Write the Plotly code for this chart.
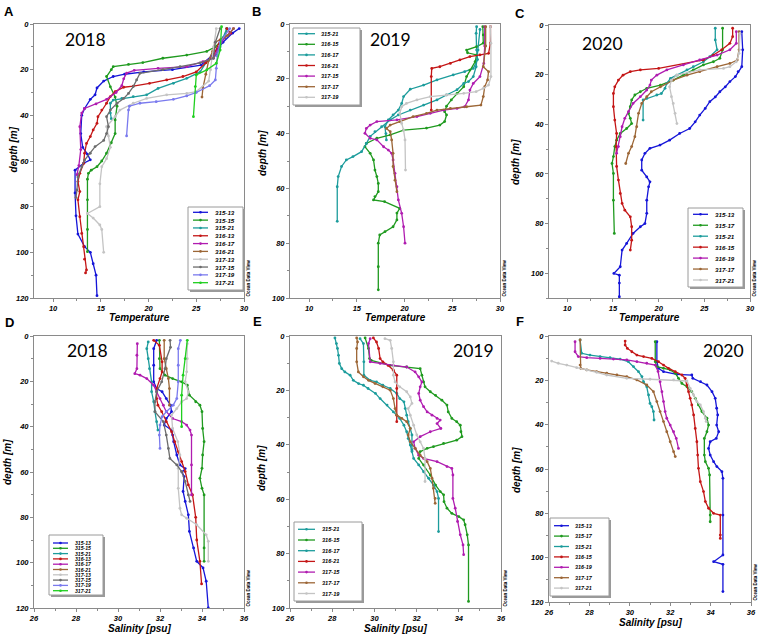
import plotly.graph_objects as go

W, H = 759, 636

# station colours (ODV style)
colors = {
    "315-13": "#1515d8", "315-15": "#1f9a1f", "315-17": "#1f9a1f", "315-21": "#1c9c9c",
    "316-13": "#c41616", "316-15": "#c41616", "316-17": "#b01cb0", "316-19": "#b01cb0",
    "316-21": "#9c6636", "317-13": "#c4c4c4", "317-15": "#6c6c6c", "317-17": "#9c6636",
    "317-19": "#7a7aee", "317-21": "#1fcf1f",
}
colors_2019 = dict(colors)
colors_2019.update({"316-15": "#1f9a1f", "316-17": "#1c9c9c", "316-21": "#c41616",
                    "317-15": "#b01cb0", "317-19": "#c4c4c4"})
colors_2020 = dict(colors)
colors_2020.update({"316-15": "#c41616", "317-21": "#c4c4c4"})

# (depth [m], temperature)
temp_2018 = {
    "315-13": [(2, 29.5), (4, 28.8), (8, 27.8), (14, 26.6), (18, 25.5), (20, 22.5), (21, 19.5), (22, 17.5),
               (23, 16.3), (25, 15.3), (28, 14.6), (31, 14.4), (33, 13.9), (37, 13.3), (40, 13.0), (48, 12.9),
               (54, 13.1), (57, 13.6), (59.5, 13.9), (61, 13.2), (64, 12.3), (74, 12.3), (84, 12.4), (92, 12.6),
               (97.5, 13.3), (100, 13.9), (105, 14.2), (110, 14.5), (119, 14.6)],
    "315-15": [(2, 28.2), (6, 28.0), (10, 27.0), (12, 26.1), (13.6, 24.0), (15, 21.5), (16.9, 19.4), (17.7, 17.9),
               (18.7, 16.3), (20, 16.1), (23, 15.6), (27.5, 16.0), (32, 16.5), (36, 16.7), (42, 16.5), (48, 16.5),
               (52, 16.1), (56.6, 15.6), (60, 15.1), (62.5, 14.6), (64, 14.0), (65.4, 13.7), (68, 13.6),
               (77, 13.6), (90, 13.6), (99.7, 13.6)],
    "315-21": [(2, 28.2), (6, 27.8), (10, 27.5), (13.6, 27.1), (17, 26.0), (21, 25.4), (23.8, 24.0), (26, 22.6),
               (28.2, 21.0), (31, 19.8), (31.8, 18.4), (32.6, 17.2), (33.3, 16.3), (34.7, 16.0), (39, 16.0),
               (41.5, 16.1)],
    "316-13": [(2, 28.2), (4, 28.6), (7, 27.5), (14, 26.8), (17, 26.0), (21, 25.0), (23, 23.6), (24.5, 21.9),
               (26, 20.1), (27.2, 18.4), (27.7, 17.4), (29.6, 16.5), (31.8, 16.0), (34.7, 15.6), (37.7, 15.1),
               (40.6, 14.7), (43.5, 14.6), (46.4, 14.2), (49.3, 13.9), (52.3, 13.5), (56.6, 13.3), (61, 13.2),
               (65.4, 12.8), (69, 12.6), (73.4, 12.8), (77, 12.6), (84.4, 12.8), (91.7, 13.0), (97.5, 13.2),
               (103, 13.3), (107.7, 13.5), (109, 13.4)],
    "316-17": [(2, 28.9), (4, 28.5), (8, 27.6), (15, 26.8), (16.5, 25.7), (18.7, 24.0), (19.4, 21.0),
               (20.3, 18.5), (21.5, 17.7), (24, 17.4), (27, 17.2), (30, 16.6), (33, 15.6), (35, 14.5), (37, 13.3),
               (39, 13.0), (45, 12.8), (55, 12.9), (62, 12.7), (66, 12.5)],
    "316-21": [(2, 28.9), (5, 28.3), (8, 27.0), (12, 26.7), (16, 26.3), (22, 26.0), (28, 25.7), (32, 25.6)],
    "317-13": [(2, 27.1), (10, 26.8), (20, 26.5), (25, 26.3), (29.6, 25.0), (30.4, 24.0), (31, 21.9),
               (32.6, 19.8), (34.7, 18.4), (37.7, 17.0), (40.5, 16.5), (45, 15.6), (49, 15.8), (54, 16.0),
               (59, 15.6), (62.5, 15.1), (70, 14.9), (80, 14.9), (83, 13.6), (85, 14.2), (88, 14.9), (90, 15.1),
               (100, 15.3)],
    "317-15": [(2, 27.5), (8, 27.0), (15, 26.8), (17, 25.4), (18.7, 23.3), (20, 21.5), (21.6, 19.1), (24.5, 18.75),
               (27.4, 18.4), (30.4, 17.9), (32.6, 17.4), (34.7, 16.7), (37.7, 16.0), (40.6, 15.6), (45, 15.8),
               (48, 15.6), (51, 15.3), (53.7, 14.4), (56.6, 13.9), (59.6, 13.3), (62.5, 13.0), (67, 12.6),
               (72.7, 12.5), (76, 12.4)],
    "317-19": [(2, 28.5), (8, 27.5), (14, 27.2), (19.4, 27.1), (24.5, 27.0), (27, 26.4), (30, 25.0), (31.5, 24.0),
               (33, 22.6), (34, 20.8), (34.7, 19.1), (36, 18.0), (37.7, 17.9), (49, 17.7)],
    "317-21": [(1.2, 27.65), (11.4, 27.5), (17.2, 27.1), (20.1, 26.1), (22.3, 25.0), (27.4, 24.9), (40.6, 24.7)],
}

temp_2019 = {
    "315-21": [(1, 27.55), (3.4, 27.5), (9.5, 27.55), (13, 27.65), (16.2, 27.2), (17.4, 26.3), (18.6, 25.1),
               (20.4, 23.4), (22.3, 22.0), (23.8, 20.6), (26.5, 19.9), (29, 19.7), (31.4, 19.35), (33.2, 18.8),
               (35, 18.3), (37.5, 17.95), (40, 18.05), (42.3, 18.1)],
    "316-15": [(1, 28.2), (4, 28.25), (7, 28.25), (8.3, 27.55), (9.5, 26.5), (10.5, 26.6), (11.3, 27.55),
               (13.7, 27.4), (16.8, 26.85), (19.2, 26.5), (22.9, 26.2), (25.3, 25.5), (27.7, 24.9), (30, 24.4),
               (32, 24.2), (33.2, 24.4), (35.6, 24.2), (36.9, 23.7), (38, 22.3), (38.7, 19.9), (40.5, 18.5),
               (41.7, 17.1), (43.6, 16.0), (44.8, 15.85), (47.2, 16.4), (49.6, 16.75), (53.3, 16.9), (55.7, 17.1),
               (58.2, 17.25), (61.2, 17.25), (63, 16.9), (64.2, 16.75), (64.8, 17.9), (67.3, 19.5), (69, 19.2),
               (71.5, 19.2), (74, 18.8), (75.8, 17.95), (77, 17.4), (80, 17.25), (88.6, 17.25), (97, 17.25)],
    "316-17": [(2, 27.9), (9.5, 27.7), (15.6, 27.5), (19.2, 27.2), (21, 26.7), (21.7, 26.2), (24, 25.5),
               (25.9, 24.4), (27.7, 23.4), (29.6, 22.0), (31.4, 20.6), (33.2, 19.35), (35, 18.5), (37.5, 17.6),
               (39.3, 16.9), (41, 16.4), (43.6, 16.0), (46.6, 15.5), (48.4, 14.6), (49.6, 13.9), (52, 13.4),
               (55.7, 13.05), (59.4, 12.95), (72, 12.95)],
    "316-21": [(1, 29.0), (7, 29.0), (10.7, 28.8), (11.3, 27.9), (11.9, 26.85), (13.1, 25.8), (14.4, 24.8),
               (15.6, 23.7), (16.2, 22.85), (19.2, 22.8), (31.4, 22.8)],
    "317-15": [(1, 28.4), (8, 28.4), (14.4, 28.3), (19.2, 27.9), (21.7, 27.2), (24.1, 26.85), (27.7, 26.7),
               (30.2, 26.3), (30.8, 25.5), (31.4, 24.1), (32.6, 22.7), (33.8, 21.3), (35, 19.2), (35.6, 17.1),
               (36.9, 16.4), (38.1, 16.0), (39.9, 15.85), (41.7, 16.4), (42.3, 17.1), (44.8, 17.8), (46, 18.3),
               (47.2, 18.65), (49.6, 18.8), (54.5, 19.0), (59.4, 19.2), (64.2, 19.35), (69.1, 19.7), (74, 19.9),
               (80, 20.05)],
    "317-17": [(1, 28.5), (8, 28.5), (15.6, 28.25), (17.4, 28.8), (20.4, 28.7), (22.9, 28.4), (26.5, 28.25),
               (29.6, 28.0), (30.2, 26.5), (30.8, 24.8), (31.4, 23.4), (32.6, 22.3), (33.8, 20.9), (35.6, 19.5),
               (36.9, 18.5), (38.1, 18.1), (39.3, 18.5), (42.3, 18.65), (47.2, 18.8), (52, 18.8), (57, 19.0),
               (61.2, 19.2)],
    "317-19": [(1, 29.0), (7, 29.05), (19.2, 29.05), (22.3, 28.8), (23.5, 28.25), (24.7, 27.5), (25.3, 26.2),
               (25.9, 24.4), (26.5, 22.7), (27.7, 21.3), (29, 20.2), (30.2, 19.7), (32.6, 19.5), (36.3, 19.7),
               (38.7, 19.9), (42.3, 20.05), (53.3, 20.1)],
}

temp_2020 = {
    "315-13": [(2.7, 29.1), (10, 29.2), (16.8, 29.1), (18.8, 28.7), (20.8, 28.4), (22.8, 27.8), (24.9, 27.3),
               (26.9, 26.7), (29, 26.2), (30.9, 25.6), (33.6, 25.1), (36.3, 24.5), (39, 24.0), (41.7, 23.4),
               (43.7, 22.3), (46.4, 21.2), (48.4, 20.15), (49.7, 19.05), (51.7, 18.5), (54.4, 18.15),
               (58.5, 18.15), (61.2, 18.7), (63.2, 19.05), (65.2, 18.9), (70.6, 18.7), (75.9, 18.7), (80, 18.5),
               (81.3, 18.0), (84, 17.2), (88, 16.5), (90.7, 16.0), (97.4, 15.8), (100.1, 15.1), (100.8, 15.7),
               (104, 15.7), (109.5, 15.7)],
    "315-17": [(1.3, 27.0), (10, 27.0), (13.4, 26.7), (14.8, 26.0), (16.1, 24.9), (18.1, 23.8), (20.2, 22.7),
               (22.2, 21.6), (24.2, 20.2), (25.5, 18.7), (26.9, 18.0), (28.2, 17.4), (30.2, 17.05), (32.9, 16.9),
               (35.6, 16.7), (37.6, 16.9), (39.7, 17.05), (41.7, 16.5), (43.7, 15.8), (46.4, 15.4), (49, 15.2),
               (53, 15.05), (55.8, 14.9), (59.8, 15.05), (70.6, 15.05), (84, 15.15)],
    "315-21": [(1.3, 26.2), (6, 26.2), (10, 26.4), (12.8, 25.6), (14.8, 24.9), (16.8, 23.8), (18.1, 23.1),
               (20.2, 22.0), (21.5, 21.3), (23.5, 20.9), (25.5, 20.7), (27.6, 20.3), (28.2, 19.8), (29.6, 18.7),
               (30.2, 18.3), (38.3, 18.3)],
    "316-15": [(1.3, 28.1), (4.7, 28.1), (7.4, 27.8), (10, 26.9), (12.1, 26.0), (14.1, 24.9), (17.5, 20.0),
               (18.1, 18.0), (18.8, 16.9), (20.2, 16.1), (22.2, 15.6), (24.9, 15.2), (27.6, 15.05), (32.9, 15.05),
               (38.3, 15.2), (43.7, 15.4), (49, 15.35), (57, 15.4), (62.5, 15.6), (67.9, 15.8), (71.9, 16.0),
               (74.6, 16.3), (77.3, 16.9), (81.3, 17.05), (86.7, 17.05), (90.7, 16.9)],
    "316-19": [(2.7, 28.5), (7.4, 28.5), (10, 27.8), (12.1, 26.4), (14.1, 24.5), (16.1, 22.7), (18.1, 20.9),
               (20.2, 19.8), (22.2, 19.2), (24.2, 19.05), (26.2, 18.7), (28.9, 18.0), (31.6, 17.2), (34.9, 16.7),
               (37.6, 16.3), (41, 16.0), (45, 15.8), (49, 15.6), (51.7, 15.4)],
    "317-17": [(2.7, 28.8), (10, 28.8), (14.1, 28.6), (15.5, 27.8), (16.8, 26.4), (18.8, 24.5), (20.2, 23.1),
               (22.2, 21.6), (24.9, 20.2), (26.9, 19.2), (28.9, 18.7), (31.6, 18.15), (35.6, 17.8), (41, 17.6),
               (45, 17.4), (49, 17.05), (51.7, 16.7), (55.8, 16.4)],
    "317-21": [(3.4, 28.9), (11.4, 28.8), (14.8, 28.5), (16.8, 27.8), (17.5, 27.1), (18.1, 24.5), (20.2, 22.0),
               (22.2, 21.4), (24.9, 21.2), (28.9, 21.4), (31.6, 21.6), (35.6, 21.8), (39.7, 22.0)],
}

# (depth [m], salinity [psu])
sal_2018 = {
    "315-13": [(1.9, 31.84), (5.6, 31.7), (12.9, 31.7), (20.2, 31.7), (23.2, 31.84), (24.6, 32.1), (27.6, 32.3),
               (30.5, 32.5), (33.4, 32.55), (36.4, 32.3), (39.3, 32.2), (41.5, 32.55), (43.7, 32.6), (46.6, 32.65),
               (52.5, 32.8), (56.9, 32.95), (58.5, 33.2), (60, 33.05), (62, 33.15), (68.6, 33.1), (73, 33.2),
               (78.9, 33.35), (86.2, 33.4), (93.5, 33.6), (99.4, 33.75), (102.3, 34.05), (108.2, 34.2),
               (120, 34.3)],
    "315-15": [(1.9, 31.97), (10, 31.97), (14.4, 32.0), (17.3, 32.24), (18.8, 32.6), (20.2, 33.03), (21.7, 33.3),
               (26.1, 33.4), (29, 33.7), (30.5, 33.9), (33.4, 34.0), (40.8, 34.03), (46.6, 34.1), (52.5, 34.03),
               (58.4, 34.0), (62.8, 33.9), (67.2, 34.0), (70.1, 34.1), (93.5, 34.1), (99.4, 34.1)],
    "315-21": [(2.6, 31.44), (5.6, 31.37), (10, 31.44), (14.4, 31.5), (20.2, 31.6), (24.6, 31.6), (29, 31.7),
               (33.4, 31.76), (37.8, 31.84), (41.5, 31.9)],
    "316-13": [(1.9, 31.7), (4.1, 31.97), (11.4, 32.1), (15.8, 32.1), (18.8, 32.0), (23.2, 31.84), (27.6, 31.84),
               (30.5, 31.9), (33.4, 32.08), (37.8, 32.3), (42.2, 32.55), (46.6, 32.7), (51, 32.87), (55.4, 33.03),
               (59.8, 33.2), (65.7, 33.35), (70.1, 33.55), (80, 33.7), (90, 33.75), (99.4, 33.9), (109.4, 33.98)],
    "316-17": [(3.4, 30.92), (8.5, 30.9), (14.4, 30.9), (16.6, 30.8), (17.3, 31.05), (18.8, 31.37), (21.7, 31.7),
               (24.6, 31.84), (27.6, 32.0), (30.5, 32.16), (33.4, 32.3), (36.4, 32.6), (37.8, 33.03),
               (39.3, 33.27), (41.5, 33.43), (43.7, 33.5), (56.9, 33.5), (70.1, 33.5)],
    "316-21": [(1.9, 32.2), (10, 32.2), (14.4, 32.3), (18.8, 32.4), (23.2, 32.45), (30.5, 32.45)],
    "317-13": [(3.4, 33.3), (10, 33.3), (15.8, 33.27), (20.2, 33.2), (24.6, 33.35), (27.6, 33.27), (29, 33.03),
               (32, 32.8), (34.9, 32.55), (40.8, 32.6), (46.6, 32.85), (52.5, 32.95), (58.4, 32.87), (67.2, 32.87),
               (76, 32.95), (78.9, 33.03), (80.4, 33.27), (83.3, 33.75), (87.7, 34.2), (90.6, 34.3), (99.4, 34.3)],
    "317-15": [(1.9, 32.48), (5, 32.5), (10, 32.3), (14.4, 32.24), (20.2, 32.08), (24.6, 31.84), (29, 31.76),
               (33.4, 31.76), (37.8, 32.16), (43.7, 32.3), (49.6, 32.4), (54, 32.47), (56.9, 32.8), (59.8, 33.03),
               (64.2, 33.2), (70.1, 33.35), (73, 33.43)],
    "317-19": [(1.9, 32.97), (5.6, 32.87), (12.9, 32.87), (20.2, 32.87), (27.6, 32.8), (30.5, 32.63), (33.4, 32.3),
               (35.6, 32.1), (39.3, 32.0), (43.7, 31.97), (49.6, 32.0)],
    "317-21": [(1.9, 33.3), (10, 33.2), (17.3, 33.1), (26.1, 33.03), (40, 33.03)],
}

sal_2019 = {
    "315-21": [(1, 29.32), (2.8, 29.48), (9.5, 29.5), (14.4, 29.5), (16.3, 29.8), (16.9, 30.1), (18.1, 30.4),
               (19.3, 30.75), (21.1, 31.06), (23, 31.2), (24.2, 31.4), (26.7, 31.46), (29.1, 31.53), (31.5, 31.6),
               (34, 31.7), (36.4, 31.78), (40.1, 31.78), (41.9, 31.78)],
    "316-15": [(0.7, 29.56), (4.6, 29.72), (8.3, 29.77), (9, 29.85), (10.8, 30.75), (11.4, 31.53), (12, 32.17),
               (14.4, 32.25), (16.9, 32.33), (18.7, 32.4), (20.5, 32.65), (21.8, 32.9), (23.6, 33.2), (25.4, 33.44),
               (27.9, 33.5), (30.3, 33.67), (31.5, 33.9), (32.8, 34.07), (35.2, 34.1), (37, 34.15), (38.3, 33.9),
               (39.5, 33.28), (40.7, 32.8), (41.3, 32.5), (42.5, 32.17), (45, 32.1), (47.4, 32.33), (51.1, 32.65),
               (54.8, 32.9), (57.2, 33.12), (58.4, 33.28), (60.9, 33.3), (63.3, 33.44), (65.2, 33.67), (66.4, 34.0),
               (67.6, 34.23), (69.4, 34.3), (73.1, 34.4), (76.8, 34.46), (97.6, 34.46)],
    "316-17": [(0.7, 28.13), (2.8, 28.2), (4.6, 28.25), (7.1, 28.3), (10.1, 28.34), (12, 28.45), (13.2, 28.6),
               (14.4, 28.85), (16.3, 29.0), (17.5, 29.25), (18.1, 29.48), (19.3, 29.7), (21.1, 30.05), (23, 30.27),
               (25.4, 30.6), (27.9, 30.9), (30.3, 31.2), (32.8, 31.4), (35.2, 31.53), (37.7, 31.6), (40.1, 31.7),
               (42.5, 31.78), (45, 31.86), (47.4, 32.1), (49.9, 32.33), (52.3, 32.57), (54.8, 32.8), (57.2, 32.97),
               (59.7, 33.04), (71.9, 33.04)],
    "316-21": [(0.7, 29.95), (2.2, 30.1), (4.6, 30.2), (8.3, 30.27), (9.5, 30.4), (10.8, 30.65), (12.6, 30.9),
               (14.4, 31.06), (19.3, 31.06), (29.1, 31.06), (31.5, 31.06)],
    "317-15": [(1, 29.8), (2.8, 29.72), (9.5, 29.8), (10.1, 30.27), (10.8, 30.9), (11.4, 31.53), (13.2, 31.93),
               (15, 32.1), (16.9, 32.25), (18.7, 32.17), (21.1, 32.1), (23.6, 32.17), (26, 32.33), (27.9, 32.5),
               (29.1, 32.73), (30.3, 32.97), (30.9, 33.12), (32.2, 32.97), (34, 33.15), (35.2, 32.65), (37, 32.17),
               (38.9, 31.86), (41.3, 31.93), (43.8, 32.1), (45, 32.33), (46.2, 32.97), (48, 33.44), (48.7, 33.67),
               (51.1, 33.72), (59.7, 33.72), (63.3, 33.83), (68.2, 33.94), (73.1, 34.07), (76.8, 34.2),
               (80.4, 34.23)],
    "317-17": [(0.7, 29.16), (2.2, 29.2), (4.6, 29.16), (9.5, 29.16), (13.2, 29.24), (15, 29.48), (16.3, 29.72),
               (17.5, 30.03), (18.7, 30.4), (19.9, 30.75), (23, 30.9), (26.7, 30.98), (29.1, 31.06), (30.3, 31.3),
               (31.5, 31.53), (34, 31.7), (36.4, 31.6), (38.9, 31.7), (41.3, 31.93), (43.8, 32.17), (46.2, 32.5),
               (48.7, 32.65), (52.3, 32.73), (56, 32.8), (59.7, 32.88), (61.5, 32.88)],
    "317-19": [(1, 30.5), (1.6, 30.75), (4.6, 30.82), (9.5, 30.9), (14.4, 30.9), (16.9, 30.98), (18.7, 31.2),
               (20.5, 31.53), (22.4, 31.7), (24.8, 31.78), (26.7, 31.6), (29.1, 31.7), (32.8, 31.86), (36.4, 32.01),
               (38.9, 32.17), (41.3, 32.33), (45, 32.4), (53.5, 32.4)],
}

sal_2020 = {
    "315-13": [(2.6, 31.34), (11.6, 31.34), (14.6, 31.42), (16.1, 31.67), (17.3, 32.33), (17.6, 33.07),
               (19.1, 33.12), (20.6, 33.5), (22.1, 33.82), (25.1, 34.07), (28.1, 34.23), (32.6, 34.3),
               (35.6, 34.35), (40.2, 34.3), (43.2, 34.4), (46.2, 34.28), (47.7, 33.98), (50.7, 33.9),
               (53.7, 33.98), (56.7, 34.15), (58.9, 34.31), (61.2, 34.56), (64.2, 34.61), (80.8, 34.61),
               (98.8, 34.61), (101.8, 34.15), (103, 34.61), (115.3, 34.61)],
    "315-17": [(2.6, 31.26), (11.6, 31.26), (13.8, 31.34), (14.6, 31.67), (15.3, 32.0), (16.8, 32.25),
               (19.1, 32.41), (21.4, 32.58), (22.9, 32.83), (25.1, 33.07), (28.1, 33.24), (31.1, 33.4),
               (34.1, 33.57), (37.1, 33.82), (40.2, 33.9), (43.2, 33.82), (46.2, 33.69), (53.7, 33.69),
               (56.7, 33.74), (59.7, 33.9), (62.7, 33.95), (80.8, 33.98), (83.8, 33.98)],
    "315-21": [(1.8, 27.54), (7.8, 27.62), (8.6, 28.03), (9.3, 28.53), (9.8, 29.02), (10.4, 29.52), (11.6, 29.93),
               (13.8, 30.18), (16.1, 30.43), (18.3, 30.6), (20.6, 30.68), (22.9, 30.84), (26.6, 30.93),
               (30.4, 31.0), (31.9, 31.09), (34.1, 31.17), (37.9, 31.2)],
    "316-15": [(2.3, 29.77), (4.1, 29.77), (5.6, 29.88), (7.1, 30.1), (8.6, 30.35), (9.3, 30.68), (10.1, 31.09),
               (11.6, 31.42), (13.1, 31.67), (14.6, 31.92), (16.1, 32.25), (17.6, 32.58), (19.1, 32.74),
               (22.1, 32.83), (25.1, 32.91), (28.1, 32.99), (31.1, 33.07), (35.6, 33.16), (41.7, 33.24),
               (47.7, 33.32), (53.7, 33.36), (59.7, 33.4), (65.7, 33.49), (70.2, 33.65), (74.7, 33.74),
               (77.7, 33.9), (80, 34.15), (80.8, 34.48), (89.8, 34.48), (91.3, 34.48)],
    "316-19": [(2.6, 27.29), (7.1, 27.29), (9.3, 27.45), (9.8, 27.87), (10.1, 28.53), (10.4, 29.19), (10.8, 29.85),
               (11.6, 30.35), (12.3, 30.84), (13.1, 31.26), (16, 31.4), (20.6, 31.5), (25.1, 31.59), (29.6, 31.67),
               (34.1, 31.75), (37.1, 31.83), (40.2, 32.0), (43.2, 32.17), (46.2, 32.3), (50.7, 32.41)],
    "317-17": [(1.8, 27.54), (13.1, 27.54), (14.6, 27.57), (15.3, 27.87), (16.1, 28.36), (16.8, 28.86),
               (17.6, 29.36), (18.3, 29.85), (19.8, 30.35), (22.1, 30.84), (25.1, 31.17), (29.6, 31.34),
               (34.1, 31.5), (38.6, 31.67), (43.2, 31.83), (47.7, 32.0), (52.2, 32.17), (54.4, 32.25)],
    "317-21": [(11.3, 26.13), (12.3, 26.46), (13.1, 26.88), (14.3, 27.37), (15.3, 27.87), (16.4, 28.36),
               (17.6, 28.86), (19.1, 29.85), (19.5, 31.0), (19.8, 32.17), (20.3, 32.83), (23.6, 32.99),
               (26.6, 33.16), (29.6, 33.32), (31.1, 33.49), (34.1, 33.65), (37.1, 33.74), (38.6, 33.78)],
}

temp_ticks = [10, 15, 20, 25, 30]
sal_ticks = [26, 28, 30, 32, 34, 36]
depth_ticks = [0, 20, 40, 60, 80, 100, 120]


def px(x):
    return x / W


def py(y):
    return 1 - y / H


def bi(t):
    return "<b><i>%s</i></b>" % t


fig = go.Figure()
shapes = []
annotations = []

FONT = "Liberation Sans"
TICKFONT = dict(family=FONT, size=7.5, color="#000")
AXCOL = "#8a8a8a"


def note(x, y, text, size, family=FONT, angle=0, anchor="center"):
    annotations.append(dict(xref="paper", yref="paper", x=px(x), y=py(y), text=text, showarrow=False,
                            textangle=angle, xanchor=anchor, yanchor="middle",
                            font=dict(family=family, size=size, color="#000")))


# data, colours, x-range, x ticks, x minor, y max, plot box (px), year text, year pos, legend spec, titles
panels = [
    ("A", temp_2018, colors, [8, 30], temp_ticks, 2.5, 120, (34, 24, 244, 298), "2018", (85, 40),
     (188, 207, 243, 290, 212.3, 7.82, 193, 208, 213, 6.2), "Temperature", 317, (12.5, 150)),
    ("B", temp_2019, colors_2019, [8, 30], temp_ticks, 2.5, 100, (290, 24, 500, 298), "2019", (390, 39),
     (293, 28, 360, 105, 33.7, 10.6, 298, 315, 319, 5.6), "Temperature", 317, (262, 153)),
    ("C", temp_2020, colors_2020, [8, 30], temp_ticks, 2.5, 110, (549, 25, 750, 298), "2020", (602, 43),
     (688, 208, 743, 287, 214.3, 10.95, 693, 708, 713, 6.2), "Temperature", 317, (515, 162)),
    ("D", sal_2018, colors, [26, 36], sal_ticks, 1, 120, (34, 336, 244, 608), "2018", (87, 350),
     (49, 535, 103, 595, 543, 5.3, 53, 68, 73, 5.1), "Salinity [psu]", 628, (8, 462)),
    ("E", sal_2019, colors_2019, [26, 36], sal_ticks, 1, 100, (290, 336, 501, 608), "2019", (473, 350),
     (294, 522, 362, 601, 529.3, 10.7, 298, 315, 320, 5.6), "Salinity [psu]", 628, (262, 468)),
    ("F", sal_2020, colors_2020, [26, 36], sal_ticks, 1, 120, (549, 336, 751, 602), "2020", (723, 350),
     (550, 518, 609, 596, 525.7, 10.4, 554, 569, 573, 5.4), "Salinity [psu]", 622, (517, 470)),
]

letter_pos = {"A": (9, 12), "B": (256, 12), "C": (520, 13), "D": (9, 322), "E": (257, 321), "F": (520, 321)}

for i, (letter, data, cols, xr, xt, xminor, ymax, box, year, ypos, leg, xtitle, xt_y, yt_pos) in enumerate(panels):
    n = "" if i == 0 else str(i + 1)
    xa, ya = "x" + n, "y" + n
    x0, y0, x1, y1 = box

    for st, pts in data.items():
        fig.add_trace(go.Scatter(
            x=[p[1] for p in pts], y=[p[0] for p in pts],
            mode="lines+markers",
            line=dict(color=cols[st], width=1.3),
            marker=dict(color=cols[st], size=2.8),
            xaxis=xa, yaxis=ya, showlegend=False, hoverinfo="skip",
        ))

    yt = [d for d in depth_ticks if d <= ymax]
    fig.layout["xaxis" + n] = dict(
        domain=[px(x0), px(x1)], range=xr, anchor=ya, automargin=False,
        tickmode="array", tickvals=xt, ticktext=[bi(v) for v in xt],
        showline=True, mirror=True, linecolor=AXCOL, linewidth=1,
        ticks="outside", ticklen=3, tickcolor=AXCOL, tickfont=TICKFONT,
        minor=dict(ticks="outside", ticklen=2, dtick=xminor, tick0=0, tickcolor=AXCOL),
        showgrid=False, zeroline=False, fixedrange=True,
    )
    fig.layout["yaxis" + n] = dict(
        domain=[py(y1), py(y0)], range=[ymax, 0], anchor=xa, automargin=False,
        tickmode="array", tickvals=yt, ticktext=[bi(v) for v in yt],
        showline=True, mirror=True, linecolor=AXCOL, linewidth=1,
        ticks="outside", ticklen=3, tickcolor=AXCOL, tickfont=TICKFONT,
        minor=dict(ticks="outside", ticklen=2, dtick=10, tick0=0, tickcolor=AXCOL),
        showgrid=False, zeroline=False, fixedrange=True,
    )

    # panel letter, year, axis titles, ODV tag
    lx, ly = letter_pos[letter]
    note(lx, ly, "<b>%s</b>" % letter, 13)
    note(ypos[0], ypos[1], year, 17.5, family="Lato")
    note((x0 + x1) / 2, xt_y, bi(xtitle), 10)
    note(yt_pos[0], yt_pos[1], bi("depth [m]"), 10, angle=-90)
    note(x1 + 3.5, y1 - 20, "<b>Ocean Data View</b>", 4.5, angle=-90)

    # ODV style legend box
    bx0, by0, bx1, by1, first, step, lx0, lx1, tx, fs = leg
    shapes.append(dict(type="rect", xref="paper", yref="paper",
                       x0=px(bx0 + 2), x1=px(bx1 + 2), y0=py(by1 + 2), y1=py(by0 + 2),
                       fillcolor="#9a9a9a", line=dict(width=0)))
    shapes.append(dict(type="rect", xref="paper", yref="paper",
                       x0=px(bx0), x1=px(bx1), y0=py(by1), y1=py(by0),
                       fillcolor="white", line=dict(color="#9a9a9a", width=1)))
    for k, st in enumerate(data):
        yy = first + k * step
        shapes.append(dict(type="line", xref="paper", yref="paper",
                           x0=px(lx0), x1=px(lx1), y0=py(yy), y1=py(yy),
                           line=dict(color=cols[st], width=1.3)))
        mx = (lx0 + lx1) / 2
        shapes.append(dict(type="circle", xref="paper", yref="paper",
                           x0=px(mx - 1.3), x1=px(mx + 1.3), y0=py(yy + 1.3), y1=py(yy - 1.3),
                           fillcolor=cols[st], line=dict(width=0)))
        note(tx, yy, bi(st), fs, anchor="left")

fig.update_layout(
    width=W, height=H,
    margin=dict(l=0, r=0, t=0, b=0, pad=0),
    paper_bgcolor="white", plot_bgcolor="white",
    shapes=shapes, annotations=annotations,
    showlegend=False,
)

# the page body has a default 8px margin; drop it so the figure sits at the window origin
fig.write_html("out.html", config={"displayModeBar": False},
               post_script="document.body.style.margin='0px';")
